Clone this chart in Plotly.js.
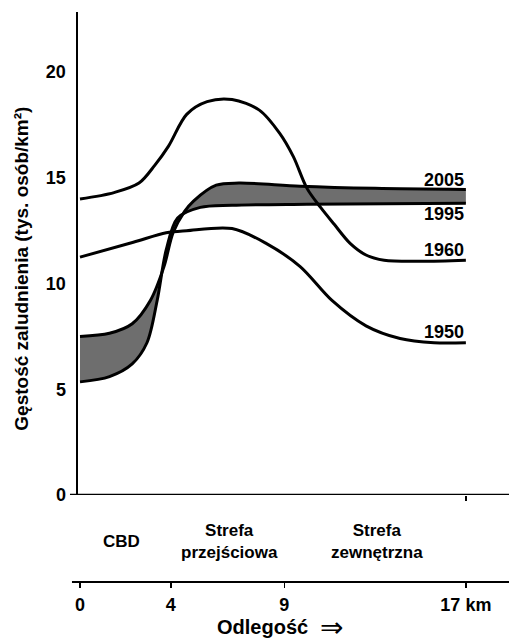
<!DOCTYPE html>
<html>
<head>
<meta charset="utf-8">
<script src="https://cdn.plot.ly/plotly-3.0.1.min.js"></script>
<style>html,body{margin:0;padding:0;background:#fff;}#chart{width:509px;height:643px;}</style>
</head>
<body>
<div id="chart"></div>
<script>
// distance from centre (km) and density (thousand persons / km2)
const x1960 = [0, 1.5, 2.6, 3.3, 3.9, 4.7, 5.6, 6.7, 7.9, 8.8, 9.4, 10.0, 10.6, 11.2, 11.9, 12.6, 13.4, 15, 17];
const y1960 = [14.0, 14.3, 14.75, 15.6, 16.5, 18.0, 18.6, 18.7, 18.2, 17.1, 16.0, 14.5, 13.6, 12.8, 11.9, 11.35, 11.1, 11.05, 11.1];

const x1950 = [0, 2.35, 3.8, 4.7, 6.7, 8.2, 9.7, 11.1, 12.6, 14.1, 15.6, 17];
const y1950 = [11.25, 11.95, 12.4, 12.5, 12.6, 11.9, 10.8, 9.2, 8.0, 7.4, 7.2, 7.2];

const x2005 = [0, 1.3, 2.3, 3.1, 3.7, 4.1, 4.6, 5.0, 6.0, 7.0, 9.7, 13, 17];
const y2005 = [7.5, 7.65, 8.1, 9.2, 10.8, 12.4, 13.4, 13.9, 14.65, 14.75, 14.6, 14.5, 14.45];

const x1995 = [0, 1.3, 2.3, 2.95, 3.4, 3.8, 4.3, 5.3, 6.7, 10, 17];
const y1995 = [5.35, 5.6, 6.2, 7.2, 9.2, 11.6, 13.1, 13.6, 13.7, 13.75, 13.8];

const yTicks = [0, 5, 10, 15, 20];
const distTicks = [0, 4, 9, 17];
const distTickText = ['0', '4', '9', '17 km'];

const seriesLabels = [
  {text: '2005', y: 14.9},
  {text: '1995', y: 13.3},
  {text: '1960', y: 11.6},
  {text: '1950', y: 7.7}
];
const zones = [
  {text: 'CBD', x: 1.85},
  {text: 'Strefa<br>przejściowa', x: 6.6},
  {text: 'Strefa<br>zewnętrzna', x: 13.08}
];

const FONT = 'Liberation Sans, Arial, sans-serif';
const lineStyle = {color: '#000', width: 3, shape: 'spline', smoothing: 0.9};

const traces = [
  {x: x1995, y: y1995, type: 'scatter', mode: 'lines', line: lineStyle, hoverinfo: 'skip'},
  {x: x2005, y: y2005, type: 'scatter', mode: 'lines', line: lineStyle, fill: 'tonexty', fillcolor: '#6e6e6e', hoverinfo: 'skip'},
  {x: x1960, y: y1960, type: 'scatter', mode: 'lines', line: lineStyle, hoverinfo: 'skip'},
  {x: x1950, y: y1950, type: 'scatter', mode: 'lines', line: lineStyle, hoverinfo: 'skip'},
  {x: distTicks, y: distTicks.map(() => null), xaxis: 'x2', type: 'scatter', mode: 'lines', hoverinfo: 'skip'}
];

const annotations = [];
seriesLabels.forEach(l => annotations.push({
  text: '<b>' + l.text + '</b>', x: 17, y: l.y, xref: 'x', yref: 'y',
  xanchor: 'right', yanchor: 'middle', showarrow: false,
  font: {family: FONT, size: 18, color: '#000'}
}));
zones.forEach(z => annotations.push({
  text: '<b>' + z.text + '</b>', x: z.x, y: 0.0702, xref: 'x', yref: 'paper',
  xanchor: 'center', yanchor: 'middle', showarrow: false,
  font: {family: FONT, size: 17, color: '#000'}
}));
annotations.push({
  text: '<b>Gęstość zaludnienia (tys. osób/km²)</b>', x: -0.13, y: 10.7, xref: 'paper', yref: 'y',
  textangle: -90, xanchor: 'center', yanchor: 'middle', showarrow: false,
  font: {family: FONT, size: 19, color: '#000'}
});
annotations.push({
  text: '<b>Odlegość</b>', x: 8.06, y: -0.079, xref: 'x', yref: 'paper',
  xanchor: 'center', yanchor: 'middle', showarrow: false,
  font: {family: FONT, size: 20, color: '#000'}
});
annotations.push({
  text: '⇒', x: 11.1, y: -0.079, xref: 'x', yref: 'paper',
  xanchor: 'center', yanchor: 'middle', showarrow: false,
  font: {family: 'DejaVu Sans, sans-serif', size: 28, color: '#000'}
});

const layout = {
  width: 509, height: 643,
  margin: {l: 78, r: 0, t: 12, b: 61},
  paper_bgcolor: '#fff', plot_bgcolor: '#fff',
  showlegend: false,
  font: {family: FONT, color: '#000'},
  xaxis: {
    range: [-0.088, 18.9], domain: [0, 1], anchor: 'y',
    showgrid: false, zeroline: false, showline: false,
    tickvals: [17], ticks: 'outside', ticklen: 5, tickwidth: 1.5, tickcolor: '#000',
    showticklabels: false, fixedrange: true
  },
  xaxis2: {
    range: [-0.088, 18.9], overlaying: 'x', anchor: 'free', position: 0, side: 'bottom',
    showgrid: false, zeroline: false, showline: false,
    tickvals: distTicks, ticktext: distTickText,
    ticks: 'outside', ticklen: 5, tickwidth: 1.5, tickcolor: '#000',
    ticklabelstandoff: 1,
    tickfont: {family: FONT, size: 18, color: '#000', weight: 'bold'}
  },
  yaxis: {
    range: [0, 22.84], domain: [0.1526, 1],
    showgrid: false, zeroline: false, showline: true, linecolor: '#000', linewidth: 2.5,
    tickvals: yTicks, ticks: '', ticklabelstandoff: 6,
    tickfont: {family: FONT, size: 18, color: '#000', weight: 'bold'}
  },
  shapes: [
    {type: 'line', xref: 'paper', yref: 'y', x0: -0.0186, x1: 1, y0: 0, y1: 0, line: {color: '#000', width: 2.5}},
    {type: 'line', xref: 'paper', yref: 'paper', x0: -0.014, x1: 1, y0: 0, y1: 0, line: {color: '#000', width: 2}}
  ],
  annotations: annotations
};

Plotly.newPlot('chart', traces, layout, {staticPlot: true, displayModeBar: false});
</script>
</body>
</html>
